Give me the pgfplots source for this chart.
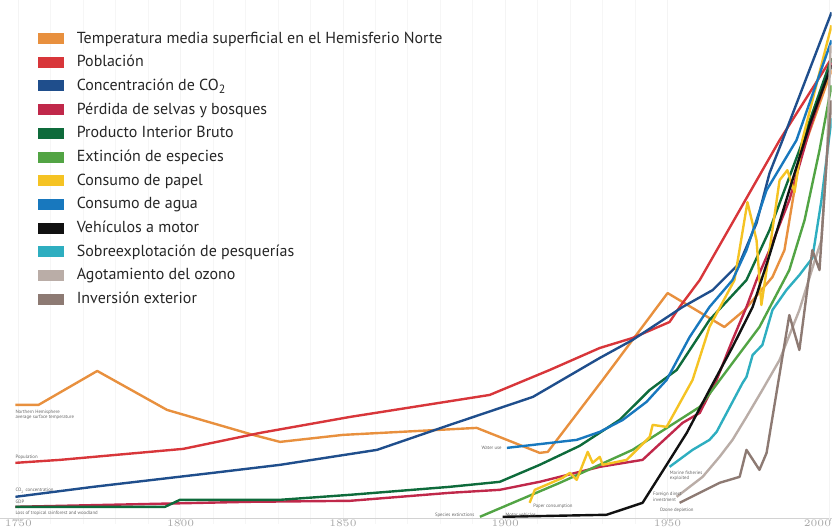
\documentclass[border=0pt]{standalone}
\usepackage{fontspec}
\setmainfont{PT Sans}
\usepackage{pgfplots}
\pgfplotsset{compat=1.18}
\definecolor{cTemp}{HTML}{E8903E}
\definecolor{cPop}{HTML}{D8363A}
\definecolor{cCO}{HTML}{1F4E8C}
\definecolor{cForest}{HTML}{C0284A}
\definecolor{cGDP}{HTML}{0E6B3B}
\definecolor{cSpec}{HTML}{52A444}
\definecolor{cPaper}{HTML}{F5C323}
\definecolor{cWater}{HTML}{1878BE}
\definecolor{cCar}{HTML}{111111}
\definecolor{cFish}{HTML}{2EAEC0}
\definecolor{cOzone}{HTML}{BAADA7}
\definecolor{cInv}{HTML}{8D7A73}
\tikzset{lab/.style={font=\fontsize{2.4}{2.8}\selectfont,text=black!60,inner sep=0pt,align=left}}
\begin{document}
\begin{tikzpicture}
\begin{axis}[
  scale only axis,width=416pt,height=262pt,
  xmin=1744.5,xmax=2000.5,ymin=-5,ymax=519,
  axis x line=middle,axis y line=none,
  axis line style={-,draw=gray!35,line width=0.5pt},
  xtick={1750,1800,...,1950},minor x tick num=4,
  extra x ticks={2000},
  extra x tick style={xticklabel style={anchor=north east,xshift=1pt}},
  xmajorgrids,xminorgrids,
  major grid style={draw=gray!9,line width=0.4pt},
  minor grid style={draw=gray!7,line width=0.4pt},
  major tick length=1.2pt,minor tick length=0pt,tick align=outside,
  tick style={draw=gray!40},
  xticklabel style={anchor=north,yshift=1.1pt,inner sep=0.2pt,
    font=\fontsize{2.2}{2.6}\selectfont,text=gray!70,
    /pgf/number format/1000 sep={}},
  hide obscured x ticks=false,
  every axis plot/.append style={line width=1.2pt,no marks,line join=round},
  legend image code/.code={\fill[#1,draw=none] (0pt,-2.75pt) rectangle (13pt,2.75pt);},
  legend cell align=left,
  legend style={at={(rel axis cs:0.0445,0.942)},anchor=north west,draw=none,fill=none,
    font=\fontsize{8}{9}\selectfont,text=black!85,inner sep=0pt,row sep=4.35pt,
    nodes={inner sep=0pt,text height=6pt,text depth=1.5pt},
    /tikz/every odd column/.append style={column sep=6.5pt}},
]
\addplot[cTemp] coordinates {(1749.1,114) (1756.2,114) (1774.3,148) (1795.8,109)
  (1822.3,84) (1830.6,77) (1850,84) (1891.2,91) (1910.6,66) (1913.1,67) (1930,139)
  (1950,226) (1967.5,192) (1973.7,209) (1982.3,242) (1986,269) (1990.6,359) (2000.5,449)};
\addlegendentry{Temperatura media superficial en el Hemisferio Norte}
\addplot[cPop] coordinates {(1749.1,56) (1762.9,59) (1800.8,70) (1824.5,86) (1852.2,102)
  (1895.2,124) (1913.7,149) (1929.1,171) (1939.2,181) (1950.6,197) (1953.7,212)
  (1959.9,239) (1984.5,379) (2000.5,461)};
\addlegendentry{Población}
\addplot[cCO] coordinates {(1749.1,22) (1773.1,32) (1810,46) (1830.6,54) (1860.5,69)
  (1882.9,94) (1908.5,122) (1929.1,161) (1939.2,179) (1954.6,212) (1963.9,229)
  (1972.2,256) (1977.4,296) (1981.4,346) (1985.4,379) (2000.5,507)};
\addlegendentry{Concentración de CO\textsubscript{2}}
\addplot[cForest] coordinates {(1749.1,12) (1821.4,17) (1852.2,18) (1882.9,26) (1898.3,29)
  (1910.6,37) (1929.1,52) (1942.3,59) (1946.6,72) (1954.6,96) (1959.9,106) (1965.1,139)
  (1970,179) (1974.3,212) (1977.4,239) (1981.4,269) (1987.5,319) (1993.7,389) (2000.5,457)};
\addlegendentry{Pérdida de selvas y bosques}
\addplot[cGDP] coordinates {(1749.1,12) (1795.2,12) (1799.8,19) (1830.6,19) (1852.2,24)
  (1882.9,32) (1898.3,37) (1910.6,54) (1922.9,73) (1935.2,99) (1944.5,129) (1952.8,149)
  (1962.9,199) (1974.3,239) (1981.4,289) (1990.6,369) (2000.5,461)};
\addlegendentry{Producto Interior Bruto}
\addplot[cSpec] coordinates {(1892.2,2) (1916.8,36) (1939.2,69) (1959.9,112) (1970,156)
  (1978.3,192) (1987.5,249) (1992.2,299) (1996.8,369) (2000.5,434)};
\addlegendentry{Extinción de especies}
\addplot[cPaper] coordinates {(1907.5,16) (1909.1,29) (1917.7,41) (1919.9,46) (1922,39)
  (1925.4,67) (1926.9,56) (1929.1,62) (1930,54) (1937.4,59) (1944.5,82) (1945.4,94)
  (1949.7,92) (1957.7,139) (1962.9,192) (1970.6,239) (1974.6,317) (1977.4,279)
  (1978.9,214) (1981.4,269) (1984.5,339) (1986.9,349) (1989.1,327) (1991.5,379) (2000.5,494)};
\addlegendentry{Consumo de papel}
\addplot[cWater] coordinates {(1900.5,71) (1922,79) (1929.1,87) (1936.2,99) (1943.5,117)
  (1949.7,139) (1956.8,182) (1962.9,212) (1970,239) (1974.3,269) (1980.5,329)
  (1989.7,379) (2000.5,479)};
\addlegendentry{Consumo de agua}
\addplot[cCar] coordinates {(1899.2,2) (1931.2,4) (1942.3,16) (1949.7,54) (1955.9,86)
  (1962.9,129) (1970,172) (1976.2,212) (1981.4,264) (1987.5,329) (1993.7,394) (2000.5,454)};
\addlegendentry{Vehículos a motor}
\addplot[cFish] coordinates {(1950.6,52) (1957.7,69) (1962.9,79) (1965.1,87) (1968.2,106)
  (1973.1,136) (1974.3,142) (1976.2,164) (1979.2,174) (1982.3,209) (1986.6,229)
  (1990.6,244) (1994.6,261) (1997.4,319) (2000.5,401)};
\addlegendentry{Sobreexplotación de pesquerías}
\addplot[cOzone] coordinates {(1952.8,22) (1960.8,42) (1966,62) (1970,79) (1974.3,102)
  (1979.2,129) (1984.5,159) (1990.6,209) (1995.2,257) (1997.4,279) (1999.2,369) (2000.2,474)};
\addlegendentry{Agotamiento del ozono}
\addplot[cInv] coordinates {(1953.7,16) (1966,36) (1972.2,42) (1974.3,69) (1978.3,49)
  (1980.5,66) (1987.5,204) (1990.6,169) (1994.6,269) (1996.8,249) (1999.2,369) (2000.5,419)};
\addlegendentry{Inversión exterior}
% small series labels
\node[lab,anchor=west] at (axis cs:1749,104) {Northern Hemisphere\\average surface temperature};
\node[lab,anchor=west] at (axis cs:1749,62) {Population};
\node[lab,anchor=west] at (axis cs:1749,28) {CO\textsubscript{2} concentration};
\node[lab,anchor=west] at (axis cs:1749,17) {GDP};
\node[lab,anchor=west] at (axis cs:1749,6) {Loss of tropical rainforest and woodland};
\node[lab,anchor=east] at (axis cs:1899,71) {Water use};
\node[lab,anchor=east] at (axis cs:1890.6,4) {Species extinctions};
\node[lab,anchor=west] at (axis cs:1900,4) {Motor vehicles};
\node[lab,anchor=west] at (axis cs:1908.5,13) {Paper consumption};
\node[lab,anchor=west] at (axis cs:1950.6,43) {Marine fisheries\\exploited};
\node[lab,anchor=west] at (axis cs:1945.4,22) {Foreign direct\\investment};
\node[lab,anchor=west] at (axis cs:1947.5,9) {Ozone depletion};
\end{axis}
\end{tikzpicture}
\end{document}
